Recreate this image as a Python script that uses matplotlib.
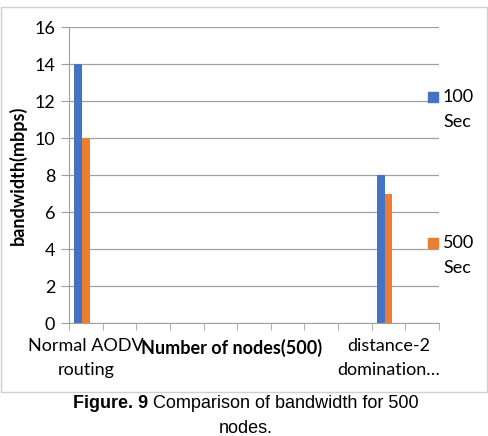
import numpy as np
import matplotlib.pyplot as plt
from matplotlib.patches import Rectangle

# data
categories = ["Normal AODV\nrouting", "", "", "", "", "", "", "", "", "distance-2\ndomination\u2026", ""]
sec_100 = [14, 0, 0, 0, 0, 0, 0, 0, 0, 8, 0]
sec_500 = [10, 0, 0, 0, 0, 0, 0, 0, 0, 7, 0]
series_names = ["100", "500"]
y_ticks = [0, 2, 4, 6, 8, 10, 12, 14, 16]

plt.rcParams['font.family'] = ['Lato', 'DejaVu Sans']

fig = plt.figure(figsize=(4.89, 4.36), dpi=100)
ax = fig.add_axes([69 / 489, 1 - 323 / 436, 370 / 489, (323 - 27.3) / 436])

x = np.arange(len(categories))
w = 0.225
blue = '#4472C4'
orange = '#ED7D31'
ax.bar(x - w + 0.5, sec_100, w, color=blue)
ax.bar(x + 0.5, sec_500, w, color=orange)

ax.set_xlim(0, len(categories))
ax.set_ylim(0, 16)
ax.set_yticks(y_ticks)
ax.yaxis.grid(True, color='#a0a0a0', linewidth=0.9)
ax.set_axisbelow(True)

ax.set_xticks(x + 0.5)
ax.set_xticklabels(categories, fontsize=13, linespacing=1.6)
ax.tick_params(axis='x', length=0, pad=11)
ax.set_xticks(np.arange(len(categories) + 1), minor=True)
ax.tick_params(axis='x', which='minor', length=5, color='#a0a0a0')
ax.tick_params(axis='y', length=6, color='#a0a0a0', labelsize=13, pad=4)

for s in ['top', 'right']:
    ax.spines[s].set_visible(False)
ax.spines['left'].set_color('#a0a0a0')
ax.spines['bottom'].set_color('#a0a0a0')

ax.set_ylabel("bandwidth(mbps)", fontsize=13, fontweight='bold', labelpad=5)
fig.text(232 / 489, 1 - 348 / 436, "Number of nodes(500)",
         ha='center', va='center', fontsize=13, fontweight='bold')

# legend
for i, (name, col) in enumerate(zip(series_names, [blue, orange])):
    yc = [97, 243][i]
    fig.patches.append(Rectangle((428 / 489, 1 - (yc + 5) / 436), 10 / 489, 10 / 436,
                                 transform=fig.transFigure, color=col))
    fig.text(443 / 489, 1 - yc / 436, name, ha='left', va='center', fontsize=13)
    fig.text(443 / 489, 1 - (yc + 25) / 436, "Sec", ha='left', va='center', fontsize=13)

# outer frame
fig.patches.append(Rectangle((1 / 489, 1 - 392 / 436), 486 / 489, 385 / 436,
                             transform=fig.transFigure, fill=False, edgecolor='#d0d0d0', linewidth=1))

# caption: bold lead-in followed by regular text
cap_bold = "Figure. 9"
cap_rest = " Comparison of bandwidth for 500"
t1 = fig.text(0, 1 - 403 / 436, cap_bold, ha='left', va='center', fontsize=13,
              fontweight='bold', family='Liberation Sans')
t2 = fig.text(0, 1 - 403 / 436, cap_rest, ha='left', va='center', fontsize=13,
              family='Liberation Sans')
fig.canvas.draw()
r = fig.canvas.get_renderer()
w1 = t1.get_window_extent(r).width
w2 = t2.get_window_extent(r).width
x0 = 246 - (w1 + w2) / 2
t1.set_x(x0 / 489)
t2.set_x((x0 + w1) / 489)
fig.text(246 / 489, 1 - 428 / 436, "nodes.", ha='center', va='center', fontsize=13,
         family='Liberation Sans')

fig.savefig("out.png", dpi=100)
